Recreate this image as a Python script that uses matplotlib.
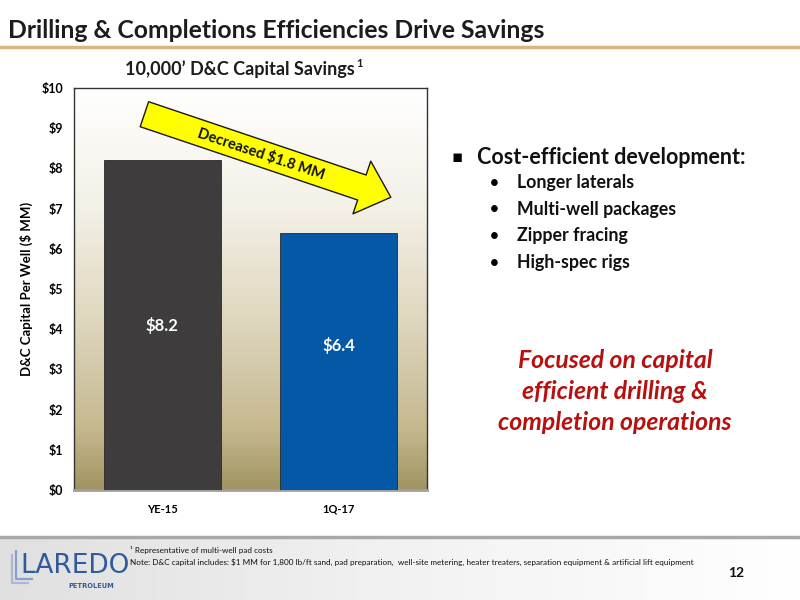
import numpy as np
import matplotlib
matplotlib.use("Agg")
import matplotlib.pyplot as plt
from matplotlib.patches import FancyArrowPatch
from matplotlib.colors import LinearSegmentedColormap

categories = ["YE-15", "1Q-17"]
values = [8.2, 6.4]
value_labels = ["\\$8.2", "\\$6.4"]
label_y = [4.1, 3.6]
bar_colors = ["#3e3c3d", "#0558a5"]
yticks = list(range(0, 11))
ytick_labels = ["\\$%d" % v for v in yticks]
bullets = ["Longer laterals", "Multi-well packages", "Zipper fracing", "High-spec rigs"]
red_lines = ["Focused on capital", "efficient drilling &", "completion operations"]

FONT = ["Lato", "DejaVu Sans"]
plt.rcParams["font.family"] = FONT

fig = plt.figure(figsize=(8, 6), dpi=100)
fig.patch.set_facecolor("white")

# background overlay axes (pixel coords)
bg = fig.add_axes([0, 0, 1, 1], zorder=-5)
bg.set_xlim(0, 800)
bg.set_ylim(600, 0)
bg.axis("off")
grad = np.linspace(0, 1, 256).reshape(1, -1)
fcm = LinearSegmentedColormap.from_list("f", ["#e0e0e0", "#f2f2f2", "#ffffff"])
bg.imshow(grad, extent=(0, 800, 600, 537), cmap=fcm, aspect="auto", zorder=0)
bg.plot([0, 800], [537, 537], color="#a8a8a8", lw=2.5, zorder=1)
bg.plot([0, 800], [47, 47], color="#deb47a", lw=2.5)

fig.text(8 / 800, 1 - 30 / 600, "Drilling & Completions Efficiencies Drive Savings",
         fontsize=17.8, fontweight="bold", color="#1c1c1c", va="center", ha="left")

# main axes
ax = fig.add_axes([74 / 800, 110 / 600, 353 / 800, 402 / 600])
gcm = LinearSegmentedColormap.from_list(
    "g", [(0, "#a19462"), (0.15, "#c4b88e"), (0.4, "#ddd5bb"), (0.7, "#f3f0e6"), (1.0, "#ffffff")])
vg = np.linspace(0, 1, 256).reshape(-1, 1)
ax.imshow(vg, extent=(-0.5, 1.5, 0, 10), origin="lower", cmap=gcm, aspect="auto", zorder=0)
ax.set_ylim(0, 10)
ax.set_xlim(-0.5, 1.5)

x = np.arange(len(categories))
ax.bar(x, values, width=0.665, color=bar_colors, edgecolor="#2a2a2a", linewidth=0.6, zorder=3)
for xi, yv, lab in zip(x, label_y, value_labels):
    ax.text(xi, yv, lab, ha="center", va="center", color="white",
            fontsize=12, fontweight="bold", zorder=5)

ax.set_yticks(yticks)
ax.set_yticklabels(ytick_labels, fontsize=9, fontweight="bold")
ax.set_xticks(x)
ax.set_xticklabels(categories, fontsize=8, fontweight="bold")
ax.tick_params(axis="x", length=0, pad=10)
ax.tick_params(axis="y", length=0, pad=8)
for s in ax.spines.values():
    s.set_color("#333333")
    s.set_linewidth(1.0)
ax.spines["bottom"].set_color("#a0a0a0")
ax.spines["bottom"].set_linewidth(2)
ax.set_ylabel("D&C Capital Per Well (\\$ MM)", fontsize=9.5, fontweight="bold", labelpad=6)

ttl = ax.text(0.47, 1.025, "10,000’ D&C Capital Savings", transform=ax.transAxes,
              ha="center", va="bottom", fontsize=13, fontweight="bold", color="#1c1c1c")
ax.annotate("1", xy=(1, 1), xycoords=ttl, xytext=(1, -2.5), textcoords="offset points",
            ha="left", va="center", fontsize=8, fontweight="bold", color="#1c1c1c")

# arrow
arr = FancyArrowPatch((-0.116, 9.37), (1.31, 7.26),
                      arrowstyle="simple,head_length=22,head_width=40,tail_width=19",
                      mutation_scale=1, facecolor="#ffff00", edgecolor="#1a1a1a",
                      linewidth=1.0, zorder=6)
ax.add_patch(arr)
ax.text(0.56, 8.35, "Decreased \\$1.8 MM", rotation=-18.6, rotation_mode="anchor",
        ha="center", va="center", fontsize=10.5, fontweight="bold", color="#111111", zorder=7)

# right text
fig.text(452 / 800, 1 - 157 / 600, "▪", fontsize=12, fontweight="bold", va="center",
         family=["DejaVu Sans"])
fig.text(477 / 800, 1 - 157 / 600, "Cost-efficient development:", fontsize=15.5,
         fontweight="bold", va="center", color="#111111")
for i, b in enumerate(bullets):
    yy = 183 + i * 26.5
    fig.text(490 / 800, 1 - yy / 600, "•", fontsize=11, fontweight="bold", va="center")
    fig.text(517 / 800, 1 - yy / 600, b, fontsize=12.8, fontweight="bold", va="center",
             color="#111111")

for i, line in enumerate(red_lines):
    fig.text(615 / 800, 1 - (360 + i * 31.5) / 600, line, fontsize=17.8, fontweight="bold",
             style="italic", color="#b80f0f", ha="center", va="center")

# footer texts
fig.text(130 / 800, 1 - 550 / 600, "¹ Representative of multi-well pad costs",
         fontsize=5.9, va="center", color="#111111")
fig.text(130 / 800, 1 - 562 / 600,
         "Note: D&C capital includes: \\$1 MM for 1,800 lb/ft sand, pad preparation,  well-site metering, heater treaters, separation equipment & artificial lift equipment",
         fontsize=5.9, va="center", color="#111111")
fig.text(736 / 800, 1 - 573 / 600, "12", fontsize=10, fontweight="bold", ha="center",
         va="center", color="#111111")

# logo
bg.plot([12, 12, 28], [555, 583, 583], color="#a8b8d6", lw=1.6)
bg.plot([16, 16, 32], [551, 579, 579], color="#8aa0c8", lw=1.6)
fig.text(20 / 800, 1 - 566 / 600, "LAREDO", fontsize=19, color="#2f5a9c",
         va="center", ha="left", family=["DejaVu Sans"])
fig.text(68 / 800, 1 - 586 / 600, "PETROLEUM", fontsize=4.8, color="#2f5a9c",
         va="center", ha="left", fontweight="bold", family=["DejaVu Sans"])

fig.savefig("out.png", dpi=100)
